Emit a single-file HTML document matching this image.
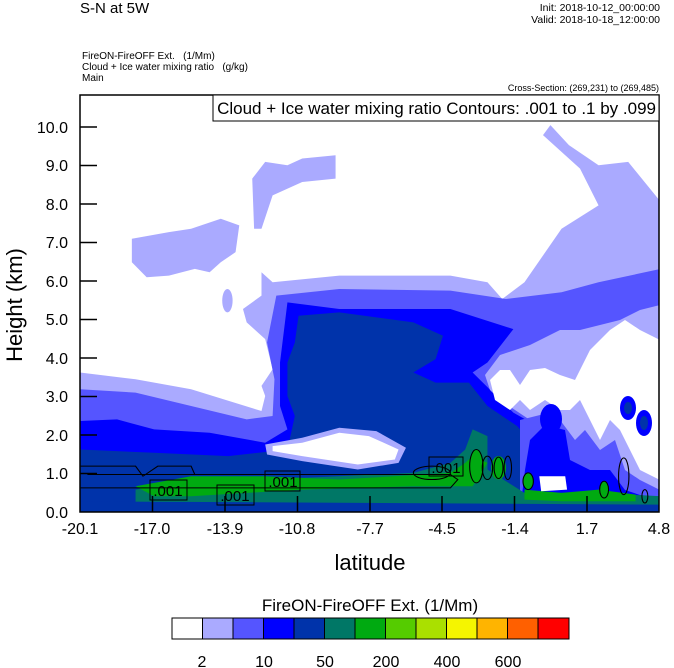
<!DOCTYPE html>
<html><head><meta charset="utf-8"><style>
body{margin:0;background:#fff;width:674px;height:668px;overflow:hidden}
svg{display:block;font-family:"Liberation Sans",sans-serif}
</style></head><body>
<svg width="674" height="668" viewBox="0 0 674 668">
<defs><clipPath id="c"><rect x="80" y="95" width="579" height="417"/></clipPath></defs>
<g clip-path="url(#c)">
<g transform="translate(80,95) scale(0.3704,0.3344)">
<polygon fill="#aaaaff" points="0,830 150,850 300,880 490,945 500,900 490,870 520,820 500,730 450,680 440,640 490,600 490,530 520,560 700,540 1000,540 1100,560 1140,610 1200,560 1300,400 1400,330 1350,220 1250,120 1270,90 1320,150 1400,210 1480,200 1568,320 1568,1254 0,1254"/>
<polygon fill="#aaaaff" points="140,430 240,410 300,400 380,370 430,390 420,470 380,500 350,530 310,520 240,540 180,545 140,500"/>
<polygon fill="#aaaaff" points="465,250 500,200 560,210 600,190 690,180 690,250 600,260 520,300 490,400 470,400"/>
<ellipse cx="398" cy="615" rx="14" ry="35" fill="#aaaaff"/>
<polygon fill="#5555ff" points="0,880 150,890 300,930 450,970 520,960 525,850 505,740 530,600 700,580 1000,585 1150,610 1300,590 1400,560 1568,520 1568,1254 0,1254"/>
<polygon fill="#0000ff" points="0,975 100,970 200,1000 350,1010 500,1040 560,1000 540,930 540,800 560,620 700,640 1000,640 1170,700 1100,800 1060,830 1170,950 1250,1000 1568,1000 1568,1254 0,1254"/>
<polygon fill="#0033aa" points="0,1060 200,1070 400,1080 560,1060 580,960 560,900 560,800 580,740 590,660 700,650 900,680 980,720 960,790 900,830 960,860 1050,860 1100,930 1180,990 1220,1040 1200,1254 0,1254"/>
<polygon fill="#aaaaff" points="500,1045 600,1025 700,995 800,1005 880,1055 860,1100 750,1120 600,1095 505,1075"/>
<polygon fill="#ffffff" points="520,1050 600,1040 700,1010 780,1020 860,1060 850,1090 750,1105 600,1080 520,1065"/>
</g>
<!-- right region in original coords -->
<polygon fill="#aaaaff" points="485,375 500,355 530,345 560,330 580,330 620,320 640,310 660,305 660,490 640,490 620,470 600,465 580,440 565,450 550,430 540,450 530,420 515,410 500,400 490,390"/>
<polygon fill="#ffffff" points="490,380 500,370 510,370 520,385 530,370 545,368 560,375 575,380 580,370 590,350 610,330 625,320 640,330 660,340 660,480 640,470 630,450 620,430 610,420 600,440 590,420 580,400 570,410 560,410 545,400 530,410 520,400 510,410 495,400"/>
<polygon fill="#5555ff" points="520,420 540,415 560,420 575,440 585,430 600,450 615,440 625,470 640,480 660,490 660,512 520,512"/>
<polygon fill="#0000ff" points="530,440 545,425 565,430 570,460 590,470 610,470 625,490 640,495 660,498 660,512 520,512 525,470"/>
<ellipse cx="551" cy="419" rx="11" ry="15" fill="#0000ff"/>
<ellipse cx="628" cy="408" rx="8" ry="12" fill="#0000ff"/>
<ellipse cx="644" cy="423" rx="8" ry="13" fill="#0000ff"/>
<ellipse cx="644" cy="423" rx="4" ry="7" fill="#0033aa"/>
<ellipse cx="628" cy="408" rx="4" ry="6" fill="#0033aa"/>
<g transform="translate(80,95) scale(0.3704,0.3344)">
<polygon fill="#007766" points="150,1180 300,1150 600,1145 900,1130 1000,1100 1040,1060 1060,1000 1100,1020 1100,1120 1200,1190 1400,1190 1568,1200 1568,1230 150,1230"/>
<polygon fill="#00aa11" points="150,1170 300,1140 500,1140 700,1150 1000,1130 1040,1100 1060,1080 1100,1100 1060,1170 900,1170 600,1180 300,1200 200,1200"/>
<polygon fill="#00aa11" points="1200,1180 1300,1190 1400,1180 1500,1195 1500,1215 1300,1215 1200,1210"/>
<ellipse cx="1070" cy="1110" rx="18" ry="50" fill="#00aa11"/>
<ellipse cx="1130" cy="1115" rx="20" ry="35" fill="#00aa11"/>
<ellipse cx="1210" cy="1155" rx="14" ry="25" fill="#00aa11"/>
<ellipse cx="1415" cy="1180" rx="12" ry="25" fill="#00aa11"/>
<polygon fill="#ffffff" points="1240,1140 1310,1140 1315,1180 1245,1185"/>
<polygon fill="#0033aa" points="0,1215 1568,1225 1568,1254 0,1254"/>
<g fill="none" stroke="#000" stroke-width="3">
<polyline points="0,1175 1000,1175 1020,1150 1000,1135 20,1135"/>
<polyline points="0,1110 150,1110 170,1140 210,1110 300,1110 310,1135"/>
<ellipse cx="1070" cy="1110" rx="18" ry="50"/>
<ellipse cx="1100" cy="1115" rx="14" ry="35"/>
<ellipse cx="1130" cy="1115" rx="12" ry="32"/>
<ellipse cx="1155" cy="1115" rx="10" ry="35"/>
<ellipse cx="1210" cy="1155" rx="14" ry="25"/>
<ellipse cx="1415" cy="1180" rx="12" ry="25"/>
<ellipse cx="1468" cy="1140" rx="14" ry="55"/>
<ellipse cx="1525" cy="1200" rx="8" ry="20"/>
<ellipse cx="950" cy="1130" rx="50" ry="20"/>
</g>
</g>
<g font-size="15" text-anchor="middle">
<rect x="150" y="480" width="37" height="20" fill="none" stroke="#000"/><text x="168" y="496">.001</text>
<rect x="217" y="485" width="37" height="20" fill="none" stroke="#000"/><text x="235" y="501">.001</text>
<rect x="265" y="471" width="35" height="20" fill="none" stroke="#000"/><text x="283" y="487">.001</text>
<rect x="429" y="457" width="34" height="19" fill="none" stroke="#000"/><text x="446" y="473">.001</text>
</g>
</g>
<rect x="80" y="95" width="579" height="417" fill="none" stroke="#000" stroke-width="1.5"/>
<g stroke="#000" stroke-width="1.5">
<line x1="80" y1="127" x2="97" y2="127"/><line x1="80" y1="165.5" x2="97" y2="165.5"/><line x1="80" y1="204" x2="97" y2="204"/><line x1="80" y1="242.5" x2="97" y2="242.5"/><line x1="80" y1="281" x2="97" y2="281"/><line x1="80" y1="319.5" x2="97" y2="319.5"/><line x1="80" y1="358" x2="97" y2="358"/><line x1="80" y1="396.5" x2="97" y2="396.5"/><line x1="80" y1="435" x2="97" y2="435"/><line x1="80" y1="473.5" x2="97" y2="473.5"/>
<line x1="152.5" y1="512" x2="152.5" y2="496"/><line x1="225" y1="512" x2="225" y2="496"/><line x1="297.5" y1="512" x2="297.5" y2="496"/><line x1="370" y1="512" x2="370" y2="496"/><line x1="442" y1="512" x2="442" y2="496"/><line x1="514.5" y1="512" x2="514.5" y2="496"/><line x1="587" y1="512" x2="587" y2="496"/>
</g>
<g font-size="16" text-anchor="end">
<text x="68" y="133">10.0</text><text x="68" y="171">9.0</text><text x="68" y="210">8.0</text><text x="68" y="248">7.0</text><text x="68" y="287">6.0</text><text x="68" y="325">5.0</text><text x="68" y="364">4.0</text><text x="68" y="402">3.0</text><text x="68" y="441">2.0</text><text x="68" y="479">1.0</text><text x="68" y="518">0.0</text>
</g>
<g font-size="16" text-anchor="middle">
<text x="80" y="534">-20.1</text><text x="152" y="534">-17.0</text><text x="225" y="534">-13.9</text><text x="297" y="534">-10.8</text><text x="370" y="534">-7.7</text><text x="442" y="534">-4.5</text><text x="515" y="534">-1.4</text><text x="587" y="534">1.7</text><text x="659" y="534">4.8</text>
</g>
<text x="370" y="570" font-size="22" text-anchor="middle">latitude</text>
<text transform="translate(22,305) rotate(-90)" font-size="22" text-anchor="middle">Height (km)</text>
<text x="80" y="13" font-size="15">S-N at 5W</text>
<text x="660" y="11" font-size="10.5" text-anchor="end">Init: 2018-10-12_00:00:00</text>
<text x="660" y="23" font-size="10.5" text-anchor="end">Valid: 2018-10-18_12:00:00</text>
<text x="82" y="59" font-size="10" xml:space="preserve">FireON-FireOFF Ext.   (1/Mm)</text>
<text x="82" y="70" font-size="10" xml:space="preserve">Cloud + Ice water mixing ratio   (g/kg)</text>
<text x="82" y="81" font-size="10">Main</text>
<text x="659" y="91" font-size="9" text-anchor="end">Cross-Section: (269,231) to (269,485)</text>
<rect x="213" y="95" width="446" height="26" fill="#fff" stroke="#000" stroke-width="1"/>
<text x="656" y="114" font-size="17" text-anchor="end">Cloud + Ice water mixing ratio Contours: .001 to .1 by .099</text>
<text x="370" y="611" font-size="17" text-anchor="middle">FireON-FireOFF Ext.  (1/Mm)</text>
<g stroke="#000" stroke-width="1">
<rect x="172" y="618" width="30.5" height="21" fill="#ffffff"/>
<rect x="202.5" y="618" width="30.5" height="21" fill="#aaaaff"/>
<rect x="233" y="618" width="30.5" height="21" fill="#5555ff"/>
<rect x="263.5" y="618" width="30.5" height="21" fill="#0000ff"/>
<rect x="294" y="618" width="30.5" height="21" fill="#0033aa"/>
<rect x="324.5" y="618" width="30.5" height="21" fill="#007766"/>
<rect x="355" y="618" width="30.5" height="21" fill="#00aa11"/>
<rect x="385.5" y="618" width="30.5" height="21" fill="#55cc00"/>
<rect x="416" y="618" width="30.5" height="21" fill="#aae000"/>
<rect x="446.5" y="618" width="30.5" height="21" fill="#f5f500"/>
<rect x="477" y="618" width="30.5" height="21" fill="#ffb400"/>
<rect x="507.5" y="618" width="30.5" height="21" fill="#ff6000"/>
<rect x="538" y="618" width="31" height="21" fill="#ff0000"/>
</g>
<g font-size="16" text-anchor="middle">
<text x="202" y="667">2</text><text x="264" y="667">10</text><text x="325" y="667">50</text><text x="386" y="667">200</text><text x="447" y="667">400</text><text x="508" y="667">600</text>
</g>
</svg>
</body></html>
